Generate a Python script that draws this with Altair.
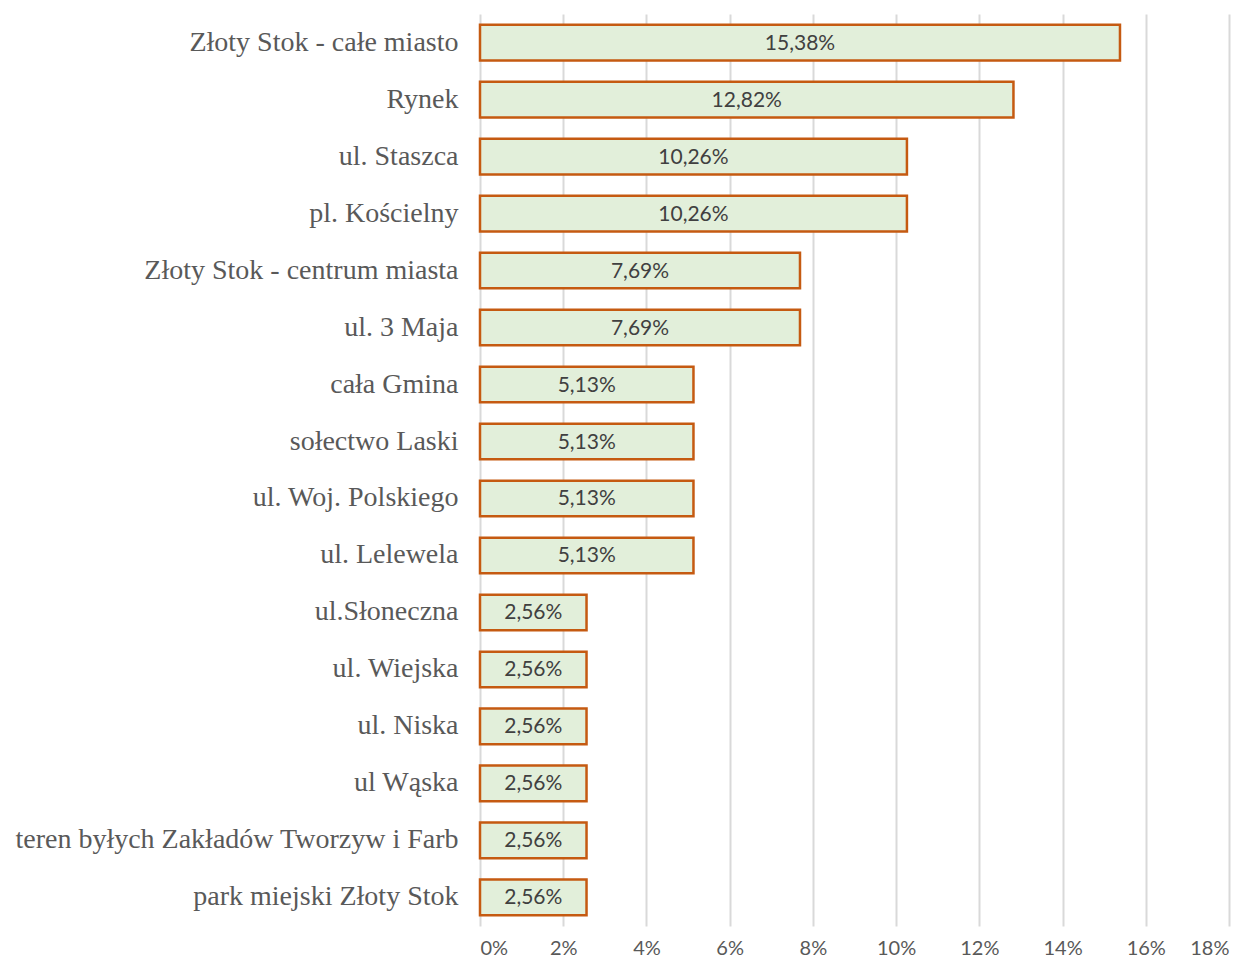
import altair as alt
import pandas as pd

categories = [
    "Złoty Stok - całe miasto",
    "Rynek",
    "ul. Staszca",
    "pl. Kościelny",
    "Złoty Stok - centrum miasta",
    "ul. 3 Maja",
    "cała Gmina",
    "sołectwo Laski",
    "ul. Woj. Polskiego",
    "ul. Lelewela",
    "ul.Słoneczna",
    "ul. Wiejska",
    "ul. Niska",
    "ul Wąska",
    "teren byłych Zakładów Tworzyw i Farb",
    "park miejski Złoty Stok",
]
values = [15.38, 12.82, 10.26, 10.26, 7.69, 7.69, 5.13, 5.13, 5.13, 5.13,
          2.56, 2.56, 2.56, 2.56, 2.56, 2.56]
labels = [f"{v:.2f}%".replace(".", ",") for v in values]

df = pd.DataFrame({"cat": categories, "val": [v / 100 for v in values],
                   "label": labels, "half": [v / 200 for v in values]})

y_enc = alt.Y("cat:N", sort=categories, title=None,
              scale=alt.Scale(paddingInner=0.375, paddingOuter=0.19),
              axis=alt.Axis(labelFont="Liberation Serif", labelFontSize=28,
                            labelColor="#595959", labelPadding=22, ticks=False,
                            domain=False, labelLimit=700))

bars = alt.Chart(df).mark_bar(fill="#e2efda", stroke="#c55a11", strokeWidth=2.5).encode(
    x=alt.X("val:Q", title=None,
            scale=alt.Scale(domain=[0, 0.18], nice=False),
            axis=alt.Axis(format=".0%", values=[i / 100 for i in range(0, 19, 2)],
                          labelFont="Lato", labelFontSize=20, labelColor="#595959",
                          labelPadding=12, ticks=False, domain=False,
                          gridColor="#d9d9d9", gridWidth=2)),
    y=y_enc,
)

text = alt.Chart(df).mark_text(font="Lato", fontSize=21, color="#404040",
                               baseline="middle", dy=1).encode(
    x=alt.X("half:Q"),
    y=alt.Y("cat:N", sort=categories),
    text="label:N",
)

chart = (bars + text).properties(
    width=749, height=912,
    autosize=alt.AutoSizeParams(type="none"),
    padding={"left": 472, "top": 6, "right": 16, "bottom": 42},
).configure_view(stroke=None).configure_axis(labelOverlap=False)

chart.save("out.html", embed_options={"renderer": "svg", "actions": False})
